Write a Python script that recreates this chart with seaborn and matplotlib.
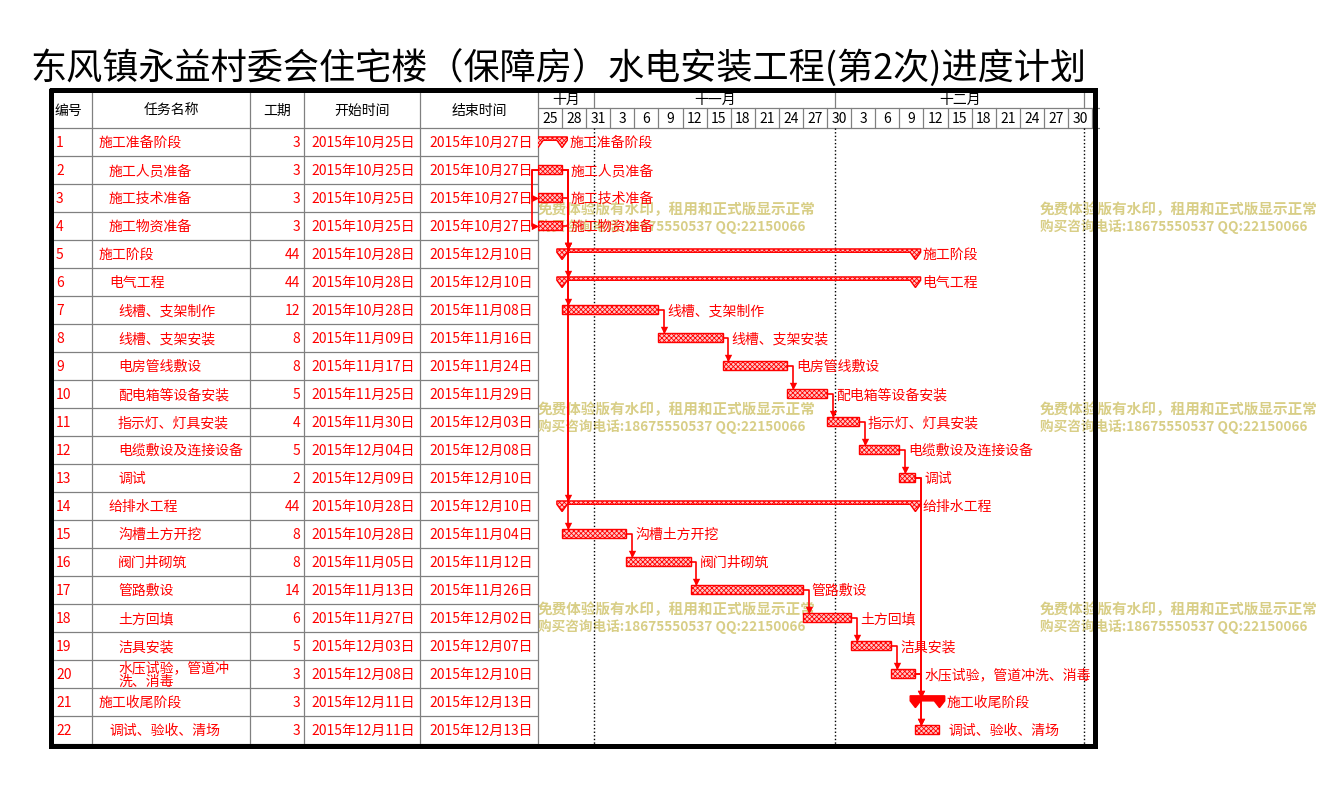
import matplotlib
matplotlib.use("Agg")
import matplotlib.pyplot as plt
import seaborn as sns
import pandas as pd

sns.set_theme(style="white")
plt.rcParams["font.family"] = ["Noto Sans CJK SC", "DejaVu Sans"]
plt.rcParams["hatch.linewidth"] = 0.6

title = "东风镇永益村委会住宅楼（保障房）水电安装工程(第2次)进度计划"
headers = ["编号", "任务名称", "工期", "开始时间", "结束时间"]

task_ids = list(range(1, 23))
task_names = ["施工准备阶段", "施工人员准备", "施工技术准备", "施工物资准备", "施工阶段", "电气工程",
              "线槽、支架制作", "线槽、支架安装", "电房管线敷设", "配电箱等设备安装", "指示灯、灯具安装",
              "电缆敷设及连接设备", "调试", "给排水工程", "沟槽土方开挖", "阀门井砌筑", "管路敷设",
              "土方回填", "洁具安装", "水压试验，管道冲洗、消毒", "施工收尾阶段", "调试、验收、清场"]
levels = [1, 2, 2, 2, 1, 2, 3, 3, 3, 3, 3, 3, 3, 2, 3, 3, 3, 3, 3, 3, 1, 2]
durations = [3, 3, 3, 3, 44, 44, 12, 8, 8, 5, 4, 5, 2, 44, 8, 8, 14, 6, 5, 3, 3, 3]
start_dates = ["2015-10-25", "2015-10-25", "2015-10-25", "2015-10-25", "2015-10-28", "2015-10-28",
               "2015-10-28", "2015-11-09", "2015-11-17", "2015-11-25", "2015-11-30", "2015-12-04",
               "2015-12-09", "2015-10-28", "2015-10-28", "2015-11-05", "2015-11-13", "2015-11-27",
               "2015-12-03", "2015-12-08", "2015-12-11", "2015-12-11"]
end_dates = ["2015-10-27", "2015-10-27", "2015-10-27", "2015-10-27", "2015-12-10", "2015-12-10",
             "2015-11-08", "2015-11-16", "2015-11-24", "2015-11-29", "2015-12-03", "2015-12-08",
             "2015-12-10", "2015-12-10", "2015-11-04", "2015-11-12", "2015-11-26", "2015-12-02",
             "2015-12-07", "2015-12-10", "2015-12-13", "2015-12-13"]
summary_rows = [1, 5, 6, 14, 21]
critical_summary = [21]

# 完成-开始 链接 (前置, 后续)
fs_links = [(2, 5), (3, 5), (4, 5), (2, 6), (2, 7), (2, 14), (2, 15),
            (7, 8), (8, 9), (9, 10), (10, 11), (11, 12), (12, 13),
            (15, 16), (16, 17), (17, 18), (18, 19), (19, 20),
            (13, 21), (20, 21), (13, 22), (20, 22)]
ss_links = [(2, 3), (2, 4)]

months = ["十月", "十一月", "十二月"]
month_starts = ["2015-10-25", "2015-11-01", "2015-12-01"]
month_ends = ["2015-11-01", "2015-12-01", "2016-01-01"]
axis_start = "2015-10-25"
axis_end = "2016-01-03"

watermark1 = "免费体验版有水印，租用和正式版显示正常"
watermark2 = "购买咨询电话:18675550537 QQ:22150066"

RED = "#ff0000"
GRAY = "#808080"
BAR_FACE = "#ffc8c8"
WM = "#d8ce86"

day0 = pd.Timestamp(axis_start)
df = pd.DataFrame({"id": task_ids, "name": task_names, "level": levels, "dur": durations,
                   "start": pd.to_datetime(start_dates), "end": pd.to_datetime(end_dates)})
df["s"] = (df["start"] - day0).dt.days
df["e"] = (df["end"] - day0).dt.days + 1
n_days = (pd.Timestamp(axis_end) - day0).days

W, H = 1322, 794
fig = plt.figure(figsize=(W / 100, H / 100), dpi=100)
fig.patch.set_facecolor("white")

# 背景层: 标题 + 水印
ax_bg = fig.add_axes([0, 0, 1, 1])
ax_bg.set_xlim(0, W)
ax_bg.set_ylim(H, 0)
ax_bg.axis("off")
ax_bg.text(30, 68, title, fontsize=26, ha="left", va="center", color="black", weight="medium")
for y in (209, 409, 609):
    for x in (538, 1040):
        ax_bg.text(x, y, watermark1, fontsize=10.5, color=WM, weight="bold", va="center", ha="left")
        ax_bg.text(x, y + 17, watermark2, fontsize=9.8, color=WM, weight="bold", va="center", ha="left")

top_px, bot_px = 91, 744
row_top = -0.82
y_bot = 22.5
ax_h = (bot_px - top_px) / H
ax_b = (H - bot_px) / H

# 表格区
tbl_l, tbl_r = 52, 538
ax_t = fig.add_axes([tbl_l / W, ax_b, (tbl_r - tbl_l) / W, ax_h])
ax_t.set_xlim(tbl_l, tbl_r)
ax_t.set_ylim(y_bot, row_top)
ax_t.axis("off")
ax_t.patch.set_alpha(0)
col_edges = [52, 92, 250, 304, 420, 538]
for x in col_edges[1:]:
    ax_t.plot([x, x], [row_top, y_bot], color=GRAY, lw=0.9, clip_on=False)
for k in range(len(task_ids) + 1):
    ax_t.plot([tbl_l, tbl_r], [0.5 + k, 0.5 + k], color=GRAY, lw=0.9, clip_on=False)
hdr_y = (row_top + 0.5) / 2 + 0.05
ax_t.text(55, hdr_y, headers[0], fontsize=10, ha="left", va="center", color="black")
for j in range(1, 5):
    ax_t.text((col_edges[j] + col_edges[j + 1]) / 2, hdr_y, headers[j], fontsize=10,
              ha="center", va="center", color="black")
indent = {1: 7, 2: 17, 3: 26}
for _, r in df.iterrows():
    y = r["id"] + 0.04
    ax_t.text(56, y, str(r["id"]), fontsize=10, ha="left", va="center", color=RED)
    name = r["name"]
    if len(name) > 9:
        name = name[:8] + "\n" + name[8:]
        ax_t.text(92 + indent[r["level"]], y, name, fontsize=10, ha="left", va="center",
                  color=RED, linespacing=0.9)
    else:
        ax_t.text(92 + indent[r["level"]], y, name, fontsize=10, ha="left", va="center", color=RED)
    ax_t.text(300, y, str(r["dur"]), fontsize=10, ha="right", va="center", color=RED)
    for col, key in ((415, "start"), (533, "end")):
        d = r[key]
        ax_t.text(col, y, f"{d.year}年{d.month}月{d.day:02d}日", fontsize=10,
                  ha="right", va="center", color=RED)

# 甘特图区
g_l = 538
g_r = g_l + n_days * 8.03
ax_g = fig.add_axes([g_l / W, ax_b, (g_r - g_l) / W, ax_h])
ax_g.set_xlim(0, n_days)
ax_g.set_ylim(y_bot, row_top)
ax_g.axis("off")
ax_g.patch.set_alpha(0)

month_row_bot = -0.21
ax_g.plot([0, n_days], [month_row_bot, month_row_bot], color=GRAY, lw=0.9, solid_capstyle="butt")
ax_g.plot([0, n_days], [0.5, 0.5], color=GRAY, lw=0.9, solid_capstyle="butt")
for m, ms, me in zip(months, month_starts, month_ends):
    a = (pd.Timestamp(ms) - day0).days
    b = (pd.Timestamp(me) - day0).days
    ax_g.text((a + b) / 2, (row_top + month_row_bot) / 2 + 0.03, m, fontsize=10, ha="center",
              va="center", color="black")
    ax_g.plot([b, b], [row_top, month_row_bot], color=GRAY, lw=0.9)
    if ms != axis_start:
        ax_g.plot([a, a], [0.5, y_bot], color="black", lw=1.0, ls=(0, (1, 1.6)))
ax_g.plot([(pd.Timestamp(month_ends[-1]) - day0).days] * 2, [0.5, y_bot],
          color="black", lw=1.0, ls=(0, (1, 1.6)))

tick_days = pd.date_range(axis_start, "2015-12-30", freq="3D")
for t in tick_days:
    a = (t - day0).days
    ax_g.text(a + 1.5, (month_row_bot + 0.5) / 2 + 0.03, str(t.day), fontsize=10, ha="center",
              va="center", color="black")
    ax_g.plot([a + 3, a + 3], [month_row_bot, 0.5], color=GRAY, lw=0.9)

# 普通任务条
normal = df[~df["id"].isin(summary_rows)]
ax_g.barh(normal["id"] - 0.02, normal["e"] - normal["s"], left=normal["s"], height=0.32,
          facecolor=BAR_FACE, edgecolor=RED, hatch="xxxxxxx", lw=1.0, zorder=3)

# 摘要任务
summ = df[df["id"].isin(summary_rows)]
hw = 0.65
for _, r in summ.iterrows():
    y, s, e = r["id"], r["s"], r["e"]
    face = RED if y in critical_summary else BAR_FACE
    hatch = None if y in critical_summary else "xxxxxxx"
    top, mid, tip = y - 0.18, y - 0.06, y + 0.2
    if y in critical_summary:
        top, mid = y - 0.22, y - 0.04
    xs = [s - hw, e + hw, e + hw, e, e - hw, e - hw, s + hw, s + hw, s, s - hw]
    ys = [top, top, mid, tip, mid, mid, mid, mid, tip, mid]
    ax_g.fill(xs, ys, facecolor=face, edgecolor=RED, hatch=hatch, lw=1.0, zorder=3)

# 链接线
ex = dict(zip(df["id"], df["e"]))
sx = dict(zip(df["id"], df["s"]))
arrow_x, arrow_y = [], []
for a, b in fs_links:
    x0 = ex[a]
    xv = x0 + 0.7
    ax_g.plot([x0, xv, xv], [a, a, b - 0.22], color=RED, lw=1.2, zorder=4, clip_on=False)
    arrow_x.append(xv)
    arrow_y.append(b - 0.28)
sns.scatterplot(x=arrow_x, y=arrow_y, marker="v", s=28, color=RED, edgecolor=RED,
                linewidth=0, ax=ax_g, zorder=5, clip_on=False)
ss_x, ss_y = [], []
for a, b in ss_links:
    x0 = sx[a]
    xv = x0 - 0.8
    ax_g.plot([x0, xv, xv, sx[b] - 0.3], [a, a, b, b], color=RED, lw=1.2, zorder=4, clip_on=False)
    ss_x.append(sx[b] - 0.35)
    ss_y.append(b)
sns.scatterplot(x=ss_x, y=ss_y, marker=">", s=28, color=RED, edgecolor=RED,
                linewidth=0, ax=ax_g, zorder=5, clip_on=False)

# 条形标签
for _, r in df.iterrows():
    off = 0.9 if r["id"] in summary_rows else 1.1
    ax_g.text(r["e"] + off, r["id"] + 0.04, r["name"], fontsize=10, ha="left", va="center",
              color=RED, zorder=6, clip_on=False)

# 外框
ax_top = fig.add_axes([0, 0, 1, 1])
ax_top.set_xlim(0, W)
ax_top.set_ylim(H, 0)
ax_top.axis("off")
ax_top.patch.set_alpha(0)
ax_top.plot([50.5, 1094.5, 1094.5, 50.5, 50.5], [89.5, 89.5, 745.5, 745.5, 89.5],
            color="black", lw=3.6, solid_joinstyle="miter")

fig.savefig("out.png", dpi=100)
